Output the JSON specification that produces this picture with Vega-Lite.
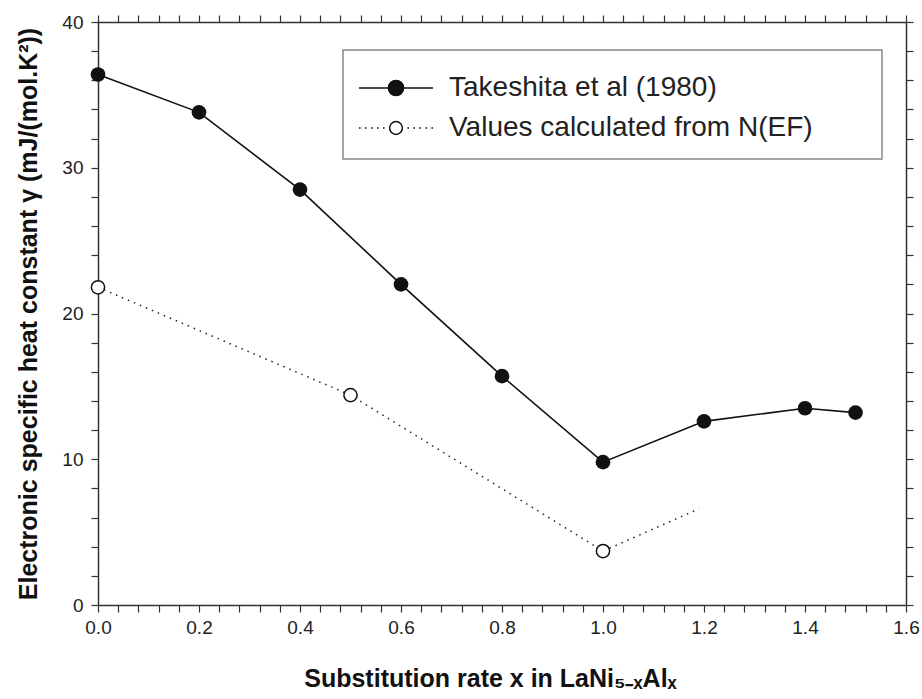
{
  "$schema": "https://vega.github.io/schema/vega-lite/v6.json",
  "width": 808,
  "height": 583,
  "autosize": {"type": "none"},
  "padding": {"left": 98, "top": 22, "right": 16, "bottom": 94},
  "background": "white",
  "data": {
    "values": [
      {"series": "Takeshita et al (1980)", "x": 0.0, "y": 36.4},
      {"series": "Takeshita et al (1980)", "x": 0.2, "y": 33.8},
      {"series": "Takeshita et al (1980)", "x": 0.4, "y": 28.5},
      {"series": "Takeshita et al (1980)", "x": 0.6, "y": 22.0},
      {"series": "Takeshita et al (1980)", "x": 0.8, "y": 15.7},
      {"series": "Takeshita et al (1980)", "x": 1.0, "y": 9.8},
      {"series": "Takeshita et al (1980)", "x": 1.2, "y": 12.6},
      {"series": "Takeshita et al (1980)", "x": 1.4, "y": 13.5},
      {"series": "Takeshita et al (1980)", "x": 1.5, "y": 13.2},
      {"series": "Values calculated from N(EF)", "x": 0.0, "y": 21.8},
      {"series": "Values calculated from N(EF)", "x": 0.5, "y": 14.4},
      {"series": "Values calculated from N(EF)", "x": 1.0, "y": 3.7},
      {"series": "Values calculated from N(EF)", "x": 1.19, "y": 6.6}
    ]
  },
  "layer": [
    {
      "encoding": {
        "x": {
          "field": "x", "type": "quantitative",
          "scale": {"domain": [0, 1.6], "nice": false, "zero": false},
          "axis": {
            "orient": "bottom",
            "values": [0,0.04,0.08,0.12,0.16,0.2,0.24,0.28,0.32,0.36,0.4,0.44,0.48,0.52,0.56,0.6,0.64,0.68,0.72,0.76,0.8,0.84,0.88,0.92,0.96,1,1.04,1.08,1.12,1.16,1.2,1.24,1.28,1.32,1.36,1.4,1.44,1.48,1.52,1.56,1.6],
            "labelExpr": "abs(datum.value*5 - round(datum.value*5)) < 0.001 ? format(datum.value, '.1f') : ''",
            "tickSize": 7,
            "labelPadding": 6,
            "labelOverlap": false,
            "labelFlush": false,
            "title": "Substitution rate x in LaNi₅₋ₓAlₓ",
            "titlePadding": 29,
            "titleX": 392,
            "encode": {"ticks": {"update": {"y2": {"signal": "abs(datum.value*5 - round(datum.value*5)) < 0.001 ? -7 : -4"}}}}
          }
        },
        "y": {
          "field": "y", "type": "quantitative",
          "scale": {"domain": [0, 40], "nice": false},
          "axis": {
            "orient": "left",
            "values": [0,2,4,6,8,10,12,14,16,18,20,22,24,26,28,30,32,34,36,38,40],
            "labelExpr": "datum.value % 10 == 0 ? format(datum.value, 'd') : ''",
            "tickSize": 7,
            "labelPadding": 8,
            "labelOverlap": false,
            "labelFlush": false,
            "title": "Electronic specific heat constant γ (mJ/(mol.K²))",
            "titlePadding": 20,
            "encode": {"ticks": {"update": {"x2": {"signal": "datum.value % 10 == 0 ? 7 : 4"}}}}
          }
        }
      },
      "layer": [
        {
          "transform": [{"filter": "datum.series == 'Takeshita et al (1980)'"}],
          "mark": {"type": "line", "color": "#111", "strokeWidth": 1.6}
        },
        {
          "transform": [{"filter": "datum.series == 'Values calculated from N(EF)'"}],
          "mark": {"type": "line", "color": "#222", "strokeWidth": 1.5, "strokeDash": [1.5, 5]}
        },
        {
          "transform": [{"filter": "datum.series == 'Takeshita et al (1980)'"}],
          "mark": {"type": "point", "shape": "circle", "filled": true, "color": "#111", "size": 215, "opacity": 1}
        },
        {
          "transform": [{"filter": "datum.series == 'Values calculated from N(EF)' && datum.x <= 1.0"}],
          "mark": {"type": "point", "shape": "circle", "filled": false, "fill": "white", "fillOpacity": 1, "stroke": "#111", "strokeWidth": 1.5, "size": 175, "opacity": 1}
        }
      ]
    },
    {
      "transform": [{"filter": "datum.x < -100"}],
      "mark": {"type": "point", "filled": true},
      "encoding": {
        "x": {
          "field": "x", "type": "quantitative",
          "axis": {
            "orient": "top",
            "values": [0,0.04,0.08,0.12,0.16,0.2,0.24,0.28,0.32,0.36,0.4,0.44,0.48,0.52,0.56,0.6,0.64,0.68,0.72,0.76,0.8,0.84,0.88,0.92,0.96,1,1.04,1.08,1.12,1.16,1.2,1.24,1.28,1.32,1.36,1.4,1.44,1.48,1.52,1.56,1.6],
            "labels": false,
            "tickSize": 7,
            "title": null,
            "encode": {"ticks": {"update": {"y2": {"signal": "abs(datum.value*5 - round(datum.value*5)) < 0.001 ? 7 : 4"}}}}
          }
        },
        "y": {
          "field": "y", "type": "quantitative",
          "axis": {
            "orient": "right",
            "values": [0,2,4,6,8,10,12,14,16,18,20,22,24,26,28,30,32,34,36,38,40],
            "labels": false,
            "tickSize": 7,
            "title": null,
            "encode": {"ticks": {"update": {"x2": {"signal": "datum.value % 10 == 0 ? -7 : -4"}}}}
          }
        },
        "fill": {
          "field": "series", "type": "nominal",
          "scale": {"domain": ["Takeshita et al (1980)", "Values calculated from N(EF)"], "range": ["#111", "white"]},
          "legend": {
            "orient": "none",
            "legendX": 245,
            "legendY": 28,
            "title": " ",
            "titleOrient": "right",
            "titlePadding": 52,
            "titleFontSize": 22,
            "padding": 17,
            "rowPadding": 5,
            "symbolSize": 1600,
            "symbolOffset": 15,
            "symbolOpacity": 1,
            "labelOffset": 32,
            "labelFontSize": 28,
            "labelFont": "Liberation Sans",
            "labelColor": "#222",
            "labelLimit": 700,
            "strokeColor": "#888",
            "encode": {
              "symbols": {"update": {
                "shape": {"signal": "datum.value == 'Takeshita et al (1980)' ? 'M-1.85,0H-0.38M0.38,0H1.85M0.38,0A0.38,0.38,0,1,1,-0.38,0A0.38,0.38,0,1,1,0.38,0Z' : 'M-1.85,0h0.08M-1.55,0h0.08M-1.25,0h0.08M-0.95,0h0.08M-0.65,0h0.08M0.57,0h0.08M0.87,0h0.08M1.17,0h0.08M1.47,0h0.08M1.77,0h0.08M0.32,0A0.32,0.32,0,1,1,-0.32,0A0.32,0.32,0,1,1,0.32,0Z'"},
                "fill": {"signal": "datum.value == 'Takeshita et al (1980)' ? '#111' : 'white'"},
                "size": {"value": 1600},
                "stroke": {"value": "#111"},
                "strokeWidth": {"value": 1.5},
                "opacity": {"value": 1},
                "fillOpacity": {"value": 1},
                "strokeOpacity": {"value": 1}
              }},
              "legend": {"update": {"strokeWidth": {"value": 1.5}}}
            }
          }
        },
        "shape": {
          "field": "series", "type": "nominal",
          "scale": {
            "domain": ["Takeshita et al (1980)", "Values calculated from N(EF)"],
            "range": [
              "M-1.85,0H-0.38M0.38,0H1.85M0.38,0A0.38,0.38,0,1,1,-0.38,0A0.38,0.38,0,1,1,0.38,0Z",
              "M-1.85,0h0.08M-1.55,0h0.08M-1.25,0h0.08M-0.95,0h0.08M-0.65,0h0.08M0.57,0h0.08M0.87,0h0.08M1.17,0h0.08M1.47,0h0.08M1.77,0h0.08M0.32,0A0.32,0.32,0,1,1,-0.32,0A0.32,0.32,0,1,1,0.32,0Z"
            ]
          }
        }
      }
    }
  ],
  "resolve": {"axis": {"x": "independent", "y": "independent"}},
  "config": {
    "view": {"stroke": null},
    "axis": {
      "grid": false,
      "domainColor": "#333",
      "domainWidth": 1.5,
      "tickColor": "#333",
      "tickWidth": 1.2,
      "labelFont": "Liberation Sans",
      "labelFontSize": 19,
      "labelColor": "#222",
      "titleFont": "Liberation Sans",
      "titleFontSize": 25,
      "titleFontWeight": "bold",
      "titleColor": "#111"
    }
  }
}
